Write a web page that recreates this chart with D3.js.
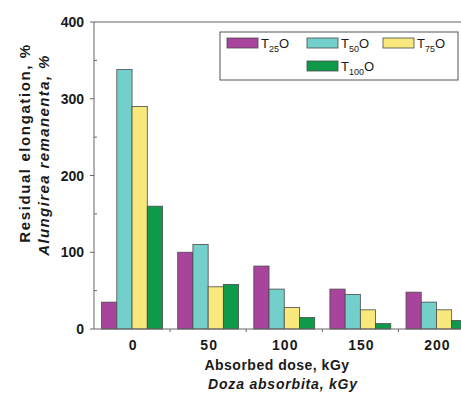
<!DOCTYPE html>
<html>
<head>
<meta charset="utf-8">
<script src="https://cdn.jsdelivr.net/npm/d3@7/dist/d3.min.js"></script>
<style>
body { margin: 0; background: #fff; }
text { font-family: "Liberation Sans", Arial, sans-serif; }
</style>
</head>
<body>
<div id="chart"></div>
<script>
var doses = ["0", "50", "100", "150", "200"];
var seriesNames = ["T25O", "T50O", "T75O", "T100O"];
var subs = ["25", "50", "75", "100"];
var colors = ["#a8449c", "#72cfc9", "#f9e87c", "#0f9a4a"];
var t25 = [35, 100, 82, 52, 48];
var t50 = [338, 110, 52, 45, 35];
var t75 = [290, 55, 28, 25, 25];
var t100 = [160, 58, 15, 7, 11];
var series = [t25, t50, t75, t100];
var yTicks = [0, 100, 200, 300, 400];

var svg = d3.select("#chart").append("svg").attr("width", 461).attr("height", 393);

var x = d3.scaleBand().domain(doses).range([94, 474.5]).paddingInner(0.2).paddingOuter(0.1);
var xs = d3.scaleBand().domain(seriesNames).range([0, x.bandwidth()]);
var y = d3.scaleLinear().domain([0, 400]).range([329, 22]);

// bars
var groups = svg.selectAll("g.grp").data(doses).enter().append("g")
	.attr("transform", function(d){ return "translate(" + x(d) + ",0)"; });
groups.selectAll("rect").data(function(d, i){
		return series.map(function(s, j){ return {k: seriesNames[j], v: s[i], c: colors[j]}; });
	}).enter().append("rect")
	.attr("x", function(d){ return xs(d.k); })
	.attr("width", xs.bandwidth())
	.attr("y", function(d){ return y(d.v); })
	.attr("height", function(d){ return y(0) - y(d.v); })
	.attr("fill", function(d){ return d.c; })
	.attr("stroke", "#4a4a4a")
	.attr("stroke-width", 0.8);

// axes
var axisColor = "#666";
svg.append("line").attr("x1", 94).attr("x2", 461).attr("y1", y(400)).attr("y2", y(400)).attr("stroke", axisColor);
svg.append("line").attr("x1", 94).attr("x2", 94).attr("y1", y(400)).attr("y2", y(0)).attr("stroke", axisColor);
svg.append("line").attr("x1", 94).attr("x2", 461).attr("y1", y(0)).attr("y2", y(0)).attr("stroke", axisColor);

yTicks.forEach(function(t){
	svg.append("line").attr("x1", 90).attr("x2", 94).attr("y1", y(t)).attr("y2", y(t)).attr("stroke", axisColor);
	svg.append("text").attr("x", 84).attr("y", y(t) + 5).attr("text-anchor", "end")
		.attr("font-size", 14).attr("font-weight", "bold").attr("fill", "#1a1a1a").text(t);
});
[50, 150, 250, 350].forEach(function(t){
	svg.append("line").attr("x1", 94).attr("x2", 97).attr("y1", y(t)).attr("y2", y(t)).attr("stroke", axisColor);
});

doses.forEach(function(d, i){
	var cx = x(d) + x.bandwidth() / 2;
	svg.append("text").attr("x", cx + 1).attr("y", 350).attr("text-anchor", "middle")
		.attr("font-size", 14).attr("font-weight", "bold").attr("fill", "#1a1a1a")
		.attr("letter-spacing", 1).text(d);
	if (i > 0) {
		var mx = cx - x.step() / 2;
		svg.append("line").attr("x1", mx).attr("x2", mx).attr("y1", y(0)).attr("y2", y(0) + 3).attr("stroke", axisColor);
	}
});

// axis titles
svg.append("text").attr("x", 277).attr("y", 370).attr("text-anchor", "middle")
	.attr("font-size", 14).attr("font-weight", "bold").attr("fill", "#1a1a1a").attr("letter-spacing", 0.5)
	.text("Absorbed dose, kGy");
svg.append("text").attr("x", 283).attr("y", 389).attr("text-anchor", "middle")
	.attr("font-size", 14).attr("font-weight", "bold").attr("font-style", "italic").attr("fill", "#1a1a1a").attr("letter-spacing", 0.8)
	.text("Doza absorbita, kGy");

svg.append("text").attr("transform", "translate(30,143) rotate(-90)").attr("text-anchor", "middle")
	.attr("font-size", 15).attr("font-weight", "bold").attr("fill", "#1a1a1a").attr("letter-spacing", 1.6)
	.text("Residual elongation, %");
svg.append("text").attr("transform", "translate(49,155) rotate(-90)").attr("text-anchor", "middle")
	.attr("font-size", 15).attr("font-weight", "bold").attr("font-style", "italic").attr("fill", "#1a1a1a").attr("letter-spacing", 1.4)
	.text("Alungirea remanenta, %");

// legend
var lg = svg.append("g");
lg.append("rect").attr("x", 220).attr("y", 32).attr("width", 238).attr("height", 48)
	.attr("fill", "#fff").attr("stroke", "#555");
var legPos = [[227, 38], [307, 38], [383, 38], [307, 61]];
seriesNames.forEach(function(n, i){
	var p = legPos[i];
	lg.append("rect").attr("x", p[0]).attr("y", p[1]).attr("width", 31).attr("height", 10)
		.attr("fill", colors[i]).attr("stroke", "#4a4a4a").attr("stroke-width", 0.8);
	var t = lg.append("text").attr("x", p[0] + 34).attr("y", p[1] + 10)
		.attr("font-size", 13).attr("fill", "#1a1a1a");
	t.append("tspan").text("T");
	t.append("tspan").attr("font-size", 9).attr("dy", 4).text(subs[i]);
	t.append("tspan").attr("dy", -4).text("O");
});
</script>
</body>
</html>
